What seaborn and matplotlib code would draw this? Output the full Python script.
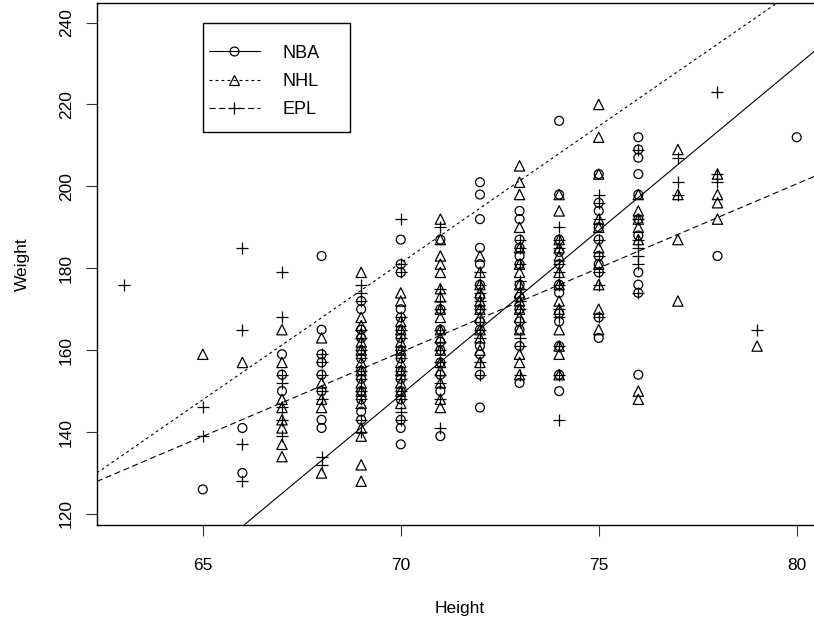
import pandas as pd
import matplotlib
matplotlib.use("Agg")
import matplotlib.pyplot as plt
import seaborn as sns
from matplotlib.lines import Line2D
from matplotlib.patches import Rectangle

# --- DATA ---
# weight values per height, one dict per league
nba = {
    65: [126],
    66: [141, 130],
    67: [159, 154, 150],
    68: [183, 165, 159, 157, 154, 150, 143, 141],
    69: [172, 170, 165, 163, 160, 158, 155, 153, 150, 148, 145, 143],
    70: [187, 181, 179, 170, 168, 165, 163, 160, 158, 155, 153, 150, 148, 143, 141, 137],
    71: [187, 170, 165, 162, 160, 157, 154, 150, 139],
    72: [201, 198, 192, 185, 181, 176, 173, 170, 167, 165, 161, 159, 154, 146],
    73: [194, 192, 187, 185, 183, 181, 176, 173, 170, 167, 165, 161, 152],
    74: [216, 198, 187, 184, 181, 176, 174, 169, 167, 161, 154, 150],
    75: [203, 196, 194, 190, 187, 183, 181, 179, 168, 163],
    76: [212, 209, 207, 203, 198, 192, 188, 179, 176, 174, 154],
    78: [183],
    80: [212],
}
nhl = {
    65: [159],
    66: [157],
    67: [165, 157, 148, 146, 143, 141, 137, 134],
    68: [163, 152, 148, 146, 130],
    69: [179, 168, 166, 164, 162, 160, 157, 155, 152, 150, 147, 141, 139, 132, 128],
    70: [174, 172, 167, 165, 162, 160, 157, 155, 152, 150, 147],
    71: [192, 187, 183, 181, 179, 175, 173, 170, 168, 165, 163, 160, 157, 155, 152, 148, 146],
    72: [183, 179, 176, 174, 172, 170, 168, 165, 163, 160, 157],
    73: [205, 201, 198, 190, 185, 181, 179, 176, 174, 172, 170, 168, 165, 159, 157, 154],
    74: [198, 194, 187, 185, 183, 179, 176, 172, 170, 165, 161, 159, 154],
    75: [220, 212, 203, 192, 190, 185, 181, 176, 170, 165],
    76: [198, 194, 192, 190, 187, 150, 148],
    77: [209, 198, 187, 172],
    78: [203, 198, 196, 192],
    79: [161],
}
epl = {
    63: [176],
    65: [146, 139],
    66: [185, 165, 137, 128],
    67: [179, 168, 154, 152, 146, 143, 139],
    68: [159, 157, 154, 150, 148, 134, 132],
    69: [176, 174, 172, 165, 163, 160, 158, 155, 153, 150, 148, 143, 140],
    70: [192, 181, 179, 168, 165, 163, 160, 158, 155, 153, 150, 148, 145, 143],
    71: [190, 175, 172, 170, 165, 162, 160, 157, 154, 152, 148, 141],
    72: [179, 176, 174, 172, 170, 167, 165, 163, 157, 154],
    73: [187, 185, 181, 177, 175, 172, 170, 167, 163, 161, 154],
    74: [190, 187, 185, 181, 179, 176, 170, 168, 161, 154, 143],
    75: [198, 196, 192, 187, 183, 179, 176, 168],
    76: [209, 192, 187, 185, 183, 181, 174],
    77: [207, 201, 198],
    78: [223, 203, 201],
    79: [165],
}

# fitted lines (intercept, slope)
nba_fit = (-413.0, 8.03)
nhl_fit = (-286.3, 6.68)
epl_fit = (-128.2, 4.11)

x_ticks = [65, 70, 75, 80]
y_ticks = [120, 140, 160, 180, 200, 220, 240]


def to_frame(d, league):
    rows = [(h, w, league) for h, ws in d.items() for w in ws]
    return pd.DataFrame(rows, columns=["Height", "Weight", "League"])


df = pd.concat([to_frame(nba, "NBA"), to_frame(nhl, "NHL"), to_frame(epl, "EPL")])

sns.set_style("ticks")
plt.rcParams["font.family"] = ["Liberation Sans", "DejaVu Sans"]
plt.rcParams["text.color"] = "black"
plt.rcParams["axes.labelcolor"] = "black"
plt.rcParams["xtick.color"] = "black"
plt.rcParams["ytick.color"] = "black"

fig = plt.figure(figsize=(8.14, 6.26), dpi=100)
ax = fig.add_axes([0.1188, 0.1613, 0.8930, 0.8334])

styles = {
    "NBA": dict(marker="o", ms=6.4, ls="-", dashes=None),
    "NHL": dict(marker="^", ms=7.4, ls="--", dashes=(2.6, 2.8)),
    "EPL": dict(marker="+", ms=8.6, ls="--", dashes=(5.5, 3.2)),
}
fits = {"NBA": nba_fit, "NHL": nhl_fit, "EPL": epl_fit}

for league, st in styles.items():
    sub = df[df["League"] == league]
    if st["marker"] == "+":
        sns.scatterplot(data=sub, x="Height", y="Weight", marker="+", s=st["ms"] ** 2,
                        color="black", linewidth=0.9, ax=ax, legend=False, zorder=3)
    else:
        sns.scatterplot(data=sub, x="Height", y="Weight", marker=st["marker"], s=st["ms"] ** 2,
                        facecolors="none", edgecolor="black", linewidth=0.9, ax=ax,
                        legend=False, zorder=3)
    b0, b1 = fits[league]
    line = ax.axline((0, b0), slope=b1, color="black", lw=0.8, zorder=2)
    if st["dashes"]:
        line.set_dashes(st["dashes"])

ax.set_xlim(62.32, 80.68)
ax.set_ylim(117.3, 244.7)
ax.set_xticks(x_ticks)
ax.set_yticks(y_ticks)
ax.tick_params(length=7.9, width=0.8, color="#333333", labelsize=12.5, labelcolor="black")
ax.tick_params(axis="x", pad=16)
ax.tick_params(axis="y", pad=8.5)
for lab in ax.get_yticklabels():
    lab.set_rotation(90)
    lab.set_va("center")
for sp in ax.spines.values():
    sp.set_linewidth(1.0)
    sp.set_color("black")
ax.spines["right"].set_visible(False)

ax.set_xlabel("Height", fontsize=12.5, labelpad=20)
ax.set_ylabel("Weight", fontsize=12.5, labelpad=21)

# legend, box drawn separately like base R
handles = []
for league, st in styles.items():
    h = Line2D([], [], color="black", lw=0.8, marker=st["marker"], ms=st["ms"],
               mfc="none", mec="black", mew=0.9)
    if st["dashes"]:
        h.set_dashes(st["dashes"])
    handles.append(h)
fig.patches.append(Rectangle((0.249, 0.7896), 0.181, 0.1732, transform=fig.transFigure,
                             facecolor="white", edgecolor="black", lw=1.0, zorder=5))
leg = fig.legend(handles, list(styles.keys()), loc="upper left",
                 bbox_to_anchor=(209 / 814, 0.9285), frameon=False, fontsize=13,
                 handlelength=2.8, handletextpad=1.25, labelspacing=0.62,
                 borderpad=0, borderaxespad=0, numpoints=1)
leg.set_zorder(6)

fig.savefig("out.png", dpi=100)
